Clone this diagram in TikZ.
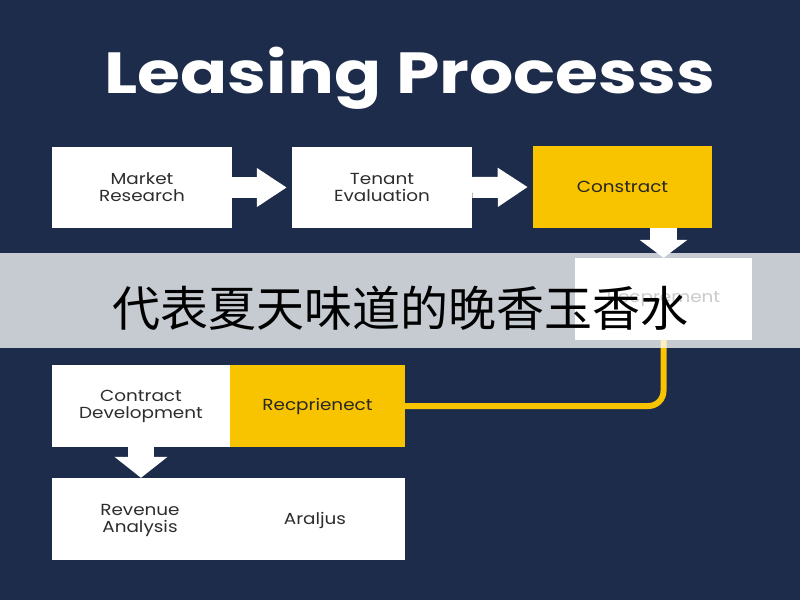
\documentclass[tikz,border=0pt]{standalone}
\usepackage{fontspec}
\setmainfont{Poppins}
\newfontfamily\boxfont[FakeStretch=1.15]{Poppins}
\newfontfamily\titlefont[FakeStretch=1.2]{Poppins}
\newfontfamily\cjk{Noto Sans CJK SC}
\usetikzlibrary{arrows.meta}

\definecolor{navy}{RGB}{28,44,74}
\definecolor{gold}{RGB}{248,196,0}
\definecolor{ink}{RGB}{45,45,45}

\tikzset{
  stepbox/.style={fill=white,text=ink,minimum width=180pt,minimum height=81pt,
    align=center,inner sep=0pt,font=\boxfont\fontsize{16}{17}\selectfont},
  goldbox/.style={stepbox,fill=gold,text=black!85},
  rightarrow/.style={white,line width=21pt,shorten >=5pt,
    -{Triangle[length=30pt,width=37pt]}},
  downarrow/.style={white,line width=26pt,
    -{Triangle[length=21pt,width=52pt]}},
  goldline/.style={gold,line width=6pt,rounded corners=15pt}
}

\begin{document}
\begin{tikzpicture}[x=1pt,y=-1pt]
  \useasboundingbox (0,0) rectangle (800,600);
  \fill[navy] (0,0) rectangle (800,600);
  \node[anchor=base,text=white,font=\titlefont\fontsize{58}{60}\selectfont\bfseries] (title) at (410,93) {Leasing Processs};
  % top row
  \node[stepbox] (mr) at (142,187.5) {Market\\Research};
  \node[stepbox] (te) at (382,187.5) {Tenant\\Evaluation};
  \node[goldbox,minimum width=179pt,minimum height=82pt] (ct) at (622.5,187) {Constract};
  \node[stepbox,minimum width=177pt,minimum height=82pt,text=ink] (ag) at (663.5,299) {Recprement};
  \draw[rightarrow] (mr.east) -- (te.west);
  \draw[rightarrow] (te.east) -- (ct.west);
  \draw[downarrow,line width=27pt,-{Triangle[length=18pt,width=47pt]}] (ct.south -| ag.north) -- (ag.north);
  % bottom rows
  \node[stepbox,minimum width=178pt,minimum height=82pt] (cd) at (141,406) {Contract\\Development};
  \node[goldbox,minimum width=175pt,minimum height=82pt] (rp) at (317.5,406) {Recprienect};
  \node[stepbox,minimum width=353pt,minimum height=82pt] (ra) at (228.5,519) {};
  \node[align=center,text=ink,font=\boxfont\fontsize{16}{17}\selectfont] (rv) at (140,520) {Revenue\\Analysis};
  \node[text=ink,font=\boxfont\fontsize{16}{17}\selectfont] (an) at (315,520) {Araljus};
  \draw[goldline] (ag.south) |- (rp.east);
  \draw[downarrow] (cd.south) -- (cd.south |- ra.north);
  % banner
  \fill[white,opacity=0.75] (0,253) rectangle (800,348);
  \node[inner sep=0pt,font=\cjk\fontsize{48}{50}\selectfont] (zh) at (400,308) {代表夏天味道的晚香玉香水};
\end{tikzpicture}
\end{document}
